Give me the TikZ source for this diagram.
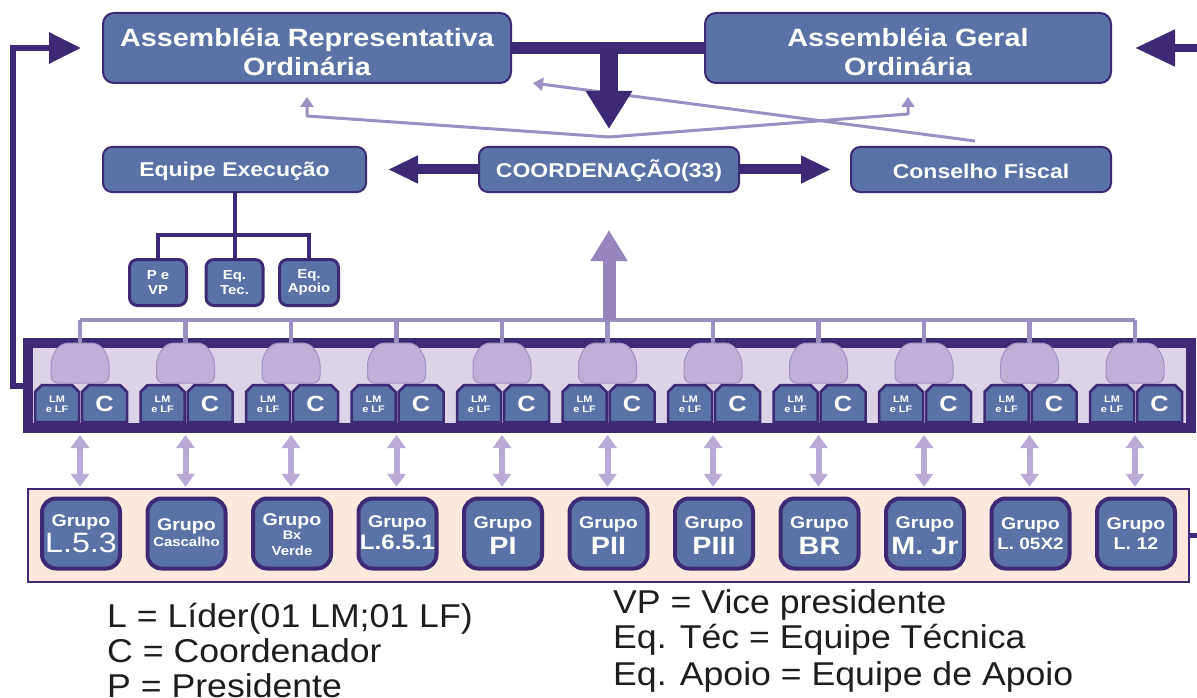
\documentclass[tikz,border=0pt]{standalone}
\usepackage{fontspec}
\setmainfont{Liberation Sans}[FakeStretch=1.15]
\newfontfamily\legfont{Liberation Sans}[FakeStretch=1.08]
\usetikzlibrary{arrows.meta,calc}

\definecolor{sblue}{HTML}{5A72A6}
\definecolor{dpur}{HTML}{3E2A74}
\definecolor{lline}{HTML}{9C8FC3}
\definecolor{upar}{HTML}{9786BE}
\definecolor{lav}{HTML}{DDD3E9}
\definecolor{bellf}{HTML}{BEB0D6}
\definecolor{bellb}{HTML}{A090C6}
\definecolor{dblar}{HTML}{B9AAD8}
\definecolor{peach}{HTML}{FDE8DE}
\definecolor{legc}{HTML}{1E1E1E}

\newcommand{\fsz}[1]{\fontsize{#1}{#1}\selectfont}

\begin{document}
\begin{tikzpicture}[x=1pt,y=-1pt,
  boxbase/.style={draw=dpur, line width=2pt, fill=sblue, rounded corners=11pt,
    inner sep=0pt, minimum height=70pt},
  titletext/.style={text=white, align=center, inner sep=0pt,
    font=\bfseries\fontsize{25}{29}\selectfont},
  midbox/.style={boxbase, minimum height=45pt, rounded corners=9pt},
  midtext/.style={text=white, inner sep=0pt, font=\bfseries\fontsize{20}{24}\selectfont},
  subbox/.style={draw=dpur, line width=3pt, fill=sblue, rounded corners=8pt,
    text=white, align=center, inner sep=0pt, minimum width=57pt, minimum height=46pt,
    font=\bfseries\fontsize{13}{14.5}\selectfont},
  grp/.style={draw=dpur, line width=4pt, fill=sblue, rounded corners=14pt,
    minimum width=78pt, minimum height=70pt, inner sep=0pt},
  gtxt/.style={text=white, anchor=base, inner sep=0pt, font=\bfseries\fsz{17}},
  pairshape/.style={draw=dpur, line width=2.5pt, fill=sblue, line join=miter},
  lmtext/.style={text=white, align=center, inner sep=0pt,
    font=\bfseries\fontsize{9.5}{10.5}\selectfont},
  ctext/.style={text=white, inner sep=0pt, font=\bfseries\fontsize{22}{22}\selectfont},
  bellshape/.style={fill=bellf, draw=bellb, line width=1pt, rounded corners=7pt},
  dline/.style={draw=dpur, line width=4pt},
  lt/.style={draw=lline, line width=3pt, -{Triangle[length=10pt,width=13pt]}},
  grid/.style={draw=lline, line width=4.5pt},
  dbl/.style={draw=dblar, line width=6pt,
    {Triangle[length=13pt,width=18pt]}-{Triangle[length=13pt,width=18pt]}},
  midarrow/.style={draw=dpur, line width=10pt, -{Triangle[length=30pt,width=26pt]}},
  legtext/.style={font=\legfont\fontsize{33}{36}\selectfont, text=legc,
    anchor=base west, inner sep=0pt}
]
\useasboundingbox (0,0) rectangle (1197,698);
\clip (0,0) rectangle (1197,698);
\fill[white] (0,0) rectangle (1197,698);

% ---------- top assemblies ----------
\node[boxbase, minimum width=408pt] (ar) at (307,48) {};
\node[titletext] (art) at ($(ar)+(0,3.5)$) {Assembléia Representativa\\Ordinária};
\node[boxbase, minimum width=406pt] (ago) at (908,48) {};
\node[titletext] (agot) at ($(ago)+(0,3.5)$) {Assembléia Geral\\Ordinária};

% ---------- middle row ----------
\node[midbox, minimum width=263pt] (ee) at (234.5,169.5) {};
\node[midtext] (eet) at ($(ee)+(0,1.5)$) {Equipe Execução};
\node[midbox, minimum width=260pt] (co) at (609,169.5) {};
\node[midtext] (cot) at ($(co)+(0,1.5)$) {COORDENAÇÃO(33)};
\node[midbox, minimum width=260pt] (cf) at (981,169.5) {};
\node[midtext] (cft) at ($(cf)+(0,1.5)$) {Conselho Fiscal};

% light lines from the coordination and the fiscal council to the assemblies
\coordinate (v) at ($(co.north)+(0,-9)$);
\draw[lt, line join=round] (v) -- ($(ar.south)+(0,32)$) -- ($(ar.south)+(0,13)$);
\draw[lt, line join=round] (v) -- ($(ago.south)+(0,30)$) -- ($(ago.south)+(0,13)$);
\draw[lt] ($(cf.north)+(-6,-5)$) -- ($(ar.south east)+(21,-1)$);

% thick bar between the assemblies and the arrow down to the coordination
\draw[dpur, line width=12pt] (ar.east) -- (ago.west);
\draw[dpur, line width=18pt, -{Triangle[length=38pt,width=44pt]}, shorten >=17pt]
  (ar.east -| co.north) -- (co.north);

% coordination to the side boxes
\draw[midarrow, shorten >=21pt] (co.west) -- (ee.east);
\draw[midarrow, shorten >=19pt] (co.east) -- (cf.west);

% execution team and its three parts
\node[subbox] (pvp) at (158,282.5) {P e\\VP};
\node[subbox] (etc) at (234.5,282.5) {Eq.\\Tec.};
\node[subbox, minimum width=59pt] (eap) at (309,282.5) {Eq.\\Apoio};
\draw[dline] (ee.south) -- (etc.north);
\draw[dline, line join=miter] (pvp.north) -- ++(0,-23) -| (eap.north);

% ---------- leaders / coordinators frame ----------
\node[draw=dpur, line width=10pt, fill=lav, inner sep=0pt,
      minimum width=1163pt, minimum height=85pt] (frame) at (609.5,385.5) {};

% ---------- groups panel ----------
\node[draw=dpur, line width=2.5pt, fill=peach, inner sep=0pt,
      minimum width=1161pt, minimum height=93pt] (bot) at (608.5,535.5) {};

\node[grp] (g0) at (81,533.5) {};
\node[gtxt] (g0a) at ($(g0)+(0,-7.5)$) {Grupo};
\node[gtxt, font=\mdseries\fsz{28}] (g0b) at ($(g0)+(0,18.5)$) {L.5.3};

\node[grp] (g1) at (186.5,533.5) {};
\node[gtxt] (g1a) at ($(g1)+(0,-3.5)$) {Grupo};
\node[gtxt, font=\bfseries\fsz{13}] (g1b) at ($(g1)+(0,12.5)$) {Cascalho};

\node[grp] (g2) at (292,533.5) {};
\node[gtxt] (g2a) at ($(g2)+(0,-8.5)$) {Grupo};
\node[gtxt, font=\bfseries\fsz{12.5}] (g2b) at ($(g2)+(0,5.5)$) {Bx};
\node[gtxt, font=\bfseries\fsz{13}] (g2c) at ($(g2)+(0,21.5)$) {Verde};

\node[grp] (g3) at (397.5,533.5) {};
\node[gtxt] (g3a) at ($(g3)+(0,-6.5)$) {Grupo};
\node[gtxt, font=\bfseries\fsz{21}] (g3b) at ($(g3)+(0,15.5)$) {L.6.5.1};

\node[grp] (g4) at (503,533.5) {};
\node[gtxt] (g4a) at ($(g4)+(0,-5.5)$) {Grupo};
\node[gtxt, font=\bfseries\fsz{25}] (g4b) at ($(g4)+(0,20.5)$) {PI};

\node[grp] (g5) at (608.5,533.5) {};
\node[gtxt] (g5a) at ($(g5)+(0,-5.5)$) {Grupo};
\node[gtxt, font=\bfseries\fsz{25}] (g5b) at ($(g5)+(0,20.5)$) {PII};

\node[grp] (g6) at (714,533.5) {};
\node[gtxt] (g6a) at ($(g6)+(0,-5.5)$) {Grupo};
\node[gtxt, font=\bfseries\fsz{25}] (g6b) at ($(g6)+(0,20.5)$) {PIII};

\node[grp] (g7) at (819.5,533.5) {};
\node[gtxt] (g7a) at ($(g7)+(0,-5.5)$) {Grupo};
\node[gtxt, font=\bfseries\fsz{25}] (g7b) at ($(g7)+(0,20.5)$) {BR};

\node[grp] (g8) at (925,533.5) {};
\node[gtxt] (g8a) at ($(g8)+(0,-5.5)$) {Grupo};
\node[gtxt, font=\bfseries\fsz{25}] (g8b) at ($(g8)+(0,20.5)$) {M. Jr};

\node[grp] (g9) at (1030.5,533.5) {};
\node[gtxt] (g9a) at ($(g9)+(0,-4.5)$) {Grupo};
\node[gtxt, font=\bfseries\fsz{16.5}] (g9b) at ($(g9)+(0,15.5)$) {L. 05X2};

\node[grp] (g10) at (1136,533.5) {};
\node[gtxt] (g10a) at ($(g10)+(0,-4.5)$) {Grupo};
\node[gtxt, font=\bfseries\fsz{17}] (g10b) at ($(g10)+(0,15.5)$) {L. 12};

% light collecting line above the frame and the arrow up to the coordination
\coordinate (hub) at (co.south |- 0,320);
\coordinate (bt0) at (80,343);
\coordinate (bt10) at (1135,343);
\draw[grid] (bt0 |- hub) -- (bt10 |- hub);
\draw[draw=upar, line width=13pt, -{Triangle[length=31pt,width=35pt]}, shorten >=37pt]
  (hub) -- (co.south);

\foreach \i in {0,...,10}{
  \pgfmathsetmacro{\c}{80+105.5*\i}
  \coordinate (bt\i) at (\c,343);
  \draw[grid] (bt\i |- hub) -- (bt\i);
  % bell
  \path[bellshape] (\c-19,343) -- (\c+19,343) -- (\c+29,358) -- (\c+29,383)
    -- (\c-29,383) -- (\c-29,358) -- cycle;
  % leader and coordinator tiles
  \path[pairshape] (\c-45,422) -- (\c-45,392) -- (\c-38,385) -- (\c-8,385)
    -- (\c-1,392) -- (\c-1,422) -- cycle;
  \path[pairshape] (\c+2,422) -- (\c+2,392) -- (\c+9,385) -- (\c+40,385)
    -- (\c+47,392) -- (\c+47,422) -- cycle;
  \node[lmtext] (lm\i) at (\c-23,404.5) {LM\\e LF};
  \node[ctext] (cc\i) at (\c+24.5,404) {C};
  % link between frame and group
  \draw[dbl, shorten <=2pt, shorten >=1pt] (bt\i |- frame.south) -- (bt\i |- bot.north);
}

% ---------- outer loops ----------
\draw[dpur, line width=6pt, line join=miter, -{Triangle[length=32pt,width=30pt]}, shorten >=21pt]
  (frame.west) -- ++(-10.5,0) |- (ar.west);
\coordinate (rr) at (1215,535.5);
\coordinate (rt) at (1215,48);
\draw[dpur, line width=5pt] (bot.east) -- (rr);
\draw[dpur, line width=8pt, -{Triangle[length=40pt,width=35pt]}, shorten >=23pt]
  (rt) -- (ago.east);

% ---------- legend ----------
\node[legtext] (l1) at (107,627) {L = Líder(01 LM;01 LF)};
\node[legtext] (l2) at (107,662) {C = Coordenador};
\node[legtext] (l3) at (107,697) {P = Presidente};
\node[legtext] (r1) at (613,613) {VP = Vice presidente};
\node[legtext] (r2) at (613,648) {Eq. Téc = Equipe Técnica};
\node[legtext] (r3) at (613,685) {Eq. Apoio = Equipe de Apoio};
\end{tikzpicture}
\end{document}
